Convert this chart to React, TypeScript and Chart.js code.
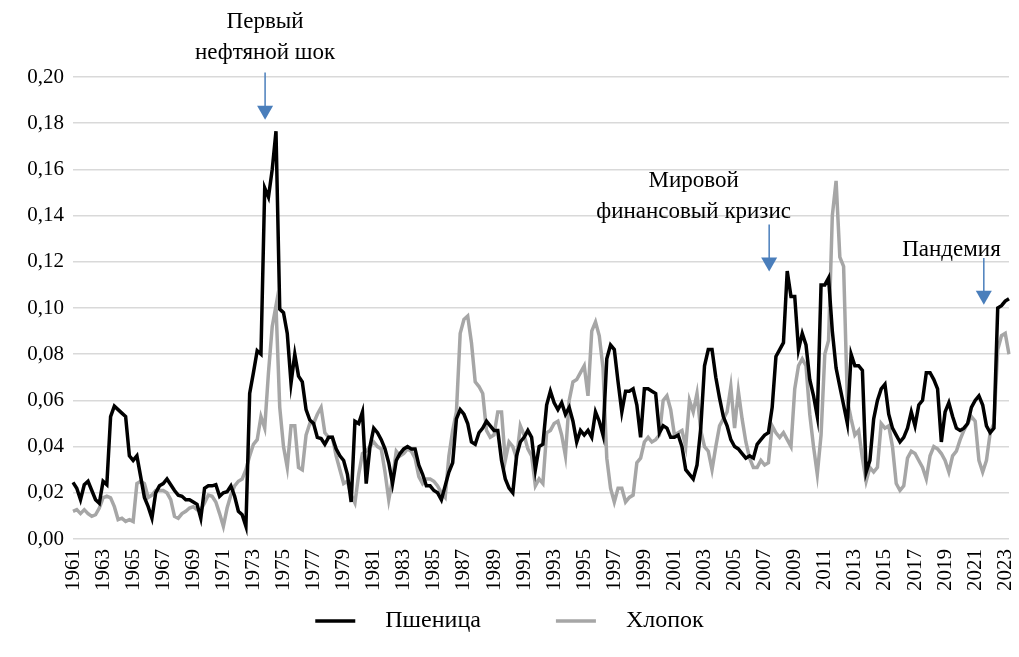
import React, { useEffect, useRef } from 'react';
import { Chart, registerables } from 'chart.js';

Chart.register(...registerables);

// ---------- DATA (quarterly, from 1961 Q1) ----------
const START_YEAR = 1961;
const PER_YEAR = 4;

const wheat: number[] = [
  0.0245, 0.022, 0.017, 0.0235,
  0.025, 0.021, 0.017, 0.0155,
  0.025, 0.0235, 0.053, 0.0575,
  0.056, 0.0545, 0.053, 0.036,
  0.034, 0.036, 0.027, 0.018,
  0.014, 0.009, 0.020, 0.023,
  0.024, 0.026, 0.0235, 0.021,
  0.019, 0.0185, 0.017, 0.017,
  0.016, 0.015, 0.009, 0.022,
  0.023, 0.023, 0.0235, 0.0185,
  0.020, 0.0205, 0.023, 0.0185,
  0.012, 0.0105, 0.0055, 0.063,
  0.072, 0.0815, 0.080, 0.152,
  0.148, 0.160, 0.1765, 0.0995,
  0.098, 0.089, 0.0675, 0.080,
  0.0705, 0.068, 0.056, 0.0515,
  0.050, 0.044, 0.0435, 0.041,
  0.044, 0.044, 0.039, 0.036,
  0.034, 0.028, 0.016, 0.051,
  0.050, 0.055, 0.024, 0.040,
  0.048, 0.046, 0.043, 0.039,
  0.033, 0.024, 0.034, 0.037,
  0.039, 0.040, 0.039, 0.039,
  0.032, 0.028, 0.023, 0.023,
  0.021, 0.020, 0.017, 0.023,
  0.029, 0.033, 0.052, 0.056,
  0.054, 0.050, 0.042, 0.041,
  0.046, 0.048, 0.051, 0.049,
  0.047, 0.047, 0.034, 0.026,
  0.022, 0.020, 0.036, 0.042,
  0.044, 0.047, 0.044, 0.030,
  0.040, 0.041, 0.058, 0.064,
  0.059, 0.056, 0.059, 0.054,
  0.057, 0.051, 0.042, 0.047,
  0.045, 0.047, 0.044, 0.055,
  0.051, 0.045, 0.078, 0.084,
  0.082, 0.068, 0.055, 0.064,
  0.064, 0.065, 0.058, 0.044,
  0.065, 0.065, 0.064, 0.063,
  0.046, 0.049, 0.048, 0.044,
  0.044, 0.045, 0.040, 0.030,
  0.028, 0.026, 0.032, 0.048,
  0.075, 0.082, 0.082, 0.070,
  0.061, 0.053, 0.049, 0.043,
  0.040, 0.039, 0.037, 0.035,
  0.036, 0.035, 0.041, 0.043,
  0.045, 0.046, 0.057, 0.079,
  0.082, 0.085, 0.116, 0.105,
  0.105, 0.082, 0.089, 0.084,
  0.069, 0.062, 0.053, 0.110,
  0.110, 0.113, 0.090, 0.074,
  0.066, 0.058, 0.050, 0.080,
  0.075, 0.075, 0.073, 0.029,
  0.034, 0.052, 0.060, 0.065,
  0.067, 0.054, 0.048, 0.045,
  0.042, 0.044, 0.048, 0.055,
  0.049, 0.058, 0.060, 0.072,
  0.072, 0.069, 0.065, 0.042,
  0.055, 0.059, 0.053, 0.048,
  0.047, 0.048, 0.050, 0.057,
  0.060, 0.062, 0.058, 0.049,
  0.046, 0.048, 0.100, 0.101,
  0.103, 0.104,
];

const cotton: number[] = [
  0.012, 0.0127, 0.011, 0.0127,
  0.011, 0.0098, 0.0105, 0.0134,
  0.0178, 0.0185, 0.0178, 0.014,
  0.0084, 0.009, 0.0076, 0.0084,
  0.0076, 0.024, 0.025, 0.024,
  0.018, 0.019, 0.021, 0.021,
  0.021, 0.020, 0.017, 0.0098,
  0.009, 0.011, 0.012, 0.0134,
  0.014, 0.0127, 0.0127, 0.0156,
  0.019, 0.0185, 0.016, 0.011,
  0.0055, 0.0134, 0.019, 0.023,
  0.025, 0.026, 0.030, 0.036,
  0.041, 0.043, 0.053, 0.048,
  0.072, 0.092, 0.101, 0.057,
  0.040, 0.031, 0.049, 0.049,
  0.031, 0.030, 0.045, 0.050,
  0.050, 0.054, 0.057, 0.046,
  0.044, 0.044, 0.036, 0.030,
  0.024, 0.025, 0.019, 0.0156,
  0.028, 0.037, 0.038, 0.040,
  0.042, 0.040, 0.039, 0.029,
  0.017, 0.026, 0.038, 0.036,
  0.037, 0.039, 0.038, 0.035,
  0.027, 0.024, 0.026, 0.026,
  0.025, 0.023, 0.020, 0.018,
  0.036, 0.047, 0.055, 0.089,
  0.095, 0.0965, 0.085, 0.068,
  0.066, 0.063, 0.047, 0.044,
  0.045, 0.055, 0.055, 0.034,
  0.042, 0.040, 0.035, 0.049,
  0.045, 0.039, 0.036, 0.023,
  0.026, 0.024, 0.046, 0.047,
  0.050, 0.051, 0.045, 0.036,
  0.060, 0.068, 0.069, 0.072,
  0.075, 0.062, 0.090, 0.094,
  0.088, 0.074, 0.035, 0.022,
  0.016, 0.022, 0.022, 0.016,
  0.018, 0.019, 0.033, 0.035,
  0.042, 0.044, 0.042, 0.043,
  0.045, 0.060, 0.062, 0.056,
  0.045, 0.046, 0.047, 0.040,
  0.060, 0.055, 0.063, 0.047,
  0.040, 0.038, 0.030, 0.040,
  0.049, 0.052, 0.055, 0.066,
  0.048, 0.064, 0.052, 0.042,
  0.035, 0.031, 0.031, 0.034,
  0.032, 0.033, 0.049, 0.046,
  0.044, 0.046, 0.043, 0.040,
  0.065, 0.075, 0.078, 0.075,
  0.054, 0.040, 0.028, 0.045,
  0.080, 0.086, 0.140, 0.155,
  0.122, 0.118, 0.060, 0.052,
  0.045, 0.047, 0.035, 0.025,
  0.031, 0.029, 0.031, 0.050,
  0.048, 0.049, 0.040, 0.024,
  0.021, 0.023, 0.035, 0.038,
  0.037, 0.034, 0.031, 0.026,
  0.036, 0.040, 0.039, 0.037,
  0.034, 0.029, 0.036, 0.038,
  0.043, 0.047, 0.050, 0.053,
  0.051, 0.034, 0.029, 0.034,
  0.046, 0.050, 0.082, 0.088,
  0.089, 0.080,
];

const seriesNames = ['Пшеница', 'Хлопок'];
const seriesColors = ['#000000', '#a6a6a6'];

const tickYears = [
  '1961', '1963', '1965', '1967', '1969', '1971', '1973', '1975', '1977', '1979',
  '1981', '1983', '1985', '1987', '1989', '1991', '1993', '1995', '1997', '1999',
  '2001', '2003', '2005', '2007', '2009', '2011', '2013', '2015', '2017', '2019',
  '2021', '2023',
];

const yMin = 0;
const yMax = 0.2;
const yStep = 0.02;

const categories = wheat.map(
  (_, i) => `${START_YEAR + Math.floor(i / PER_YEAR)} Q${(i % PER_YEAR) + 1}`
);

// annotation texts and anchors (category index / value)
const annotationLines = [
  ['Первый', 'нефтяной шок'],
  ['Мировой', 'финансовый кризис'],
  ['Пандемия'],
];
const annotationTextAt = [51.1, 165.1, 233.7];
const annotationTextValue = [0.224, 0.1551, 0.1252];
const arrowAt = [51.1, 185.2, 242.3];
const arrowFrom = [0.2019, 0.1361, 0.1216];
const arrowTo = [0.1815, 0.1158, 0.1014];

const FONT = '"Liberation Serif", "Times New Roman", serif';

const overlayPlugin = {
  id: 'overlay',
  afterDraw(chart: any) {
    const { ctx } = chart;
    const x = chart.scales.x;
    const y = chart.scales.y;
    ctx.save();
    // annotations
    ctx.fillStyle = '#000';
    ctx.font = `23px ${FONT}`;
    ctx.textAlign = 'center';
    ctx.textBaseline = 'middle';
    annotationLines.forEach((lines, k) => {
      const tx = x.getPixelForValue(annotationTextAt[k]);
      const ty = y.getPixelForValue(annotationTextValue[k]);
      lines.forEach((line, j) => ctx.fillText(line, tx, ty + j * 31));
    });
    ctx.strokeStyle = '#4a7ebb';
    ctx.fillStyle = '#4a7ebb';
    ctx.lineWidth = 1.5;
    arrowAt.forEach((a, k) => {
      const ax = x.getPixelForValue(a);
      const y0 = y.getPixelForValue(arrowFrom[k]);
      const y1 = y.getPixelForValue(arrowTo[k]);
      const headH = 14;
      const headW = 8;
      ctx.beginPath();
      ctx.moveTo(ax, y0);
      ctx.lineTo(ax, y1 - headH + 1);
      ctx.stroke();
      ctx.beginPath();
      ctx.moveTo(ax - headW, y1 - headH);
      ctx.lineTo(ax + headW, y1 - headH);
      ctx.lineTo(ax, y1);
      ctx.closePath();
      ctx.fill();
    });
    // legend
    ctx.font = `24px ${FONT}`;
    ctx.textAlign = 'left';
    ctx.textBaseline = 'middle';
    const sampleW = 40;
    const gap = 30;
    const itemGap = 75;
    const widths = chart.data.datasets.map((d: any) => sampleW + gap + ctx.measureText(d.label).width);
    const total = widths.reduce((s: number, w: number) => s + w, 0) + itemGap * (widths.length - 1);
    let lx = (chart.width - total) / 2;
    const ly = 621;
    chart.data.datasets.forEach((d: any, i: number) => {
      ctx.strokeStyle = d.borderColor;
      ctx.lineWidth = 3.5;
      ctx.beginPath();
      ctx.moveTo(lx, ly);
      ctx.lineTo(lx + sampleW, ly);
      ctx.stroke();
      ctx.fillStyle = '#000';
      ctx.fillText(d.label, lx + sampleW + gap, ly);
      lx += widths[i] + itemGap;
    });
    ctx.restore();
  },
};

export default function App() {
  const ref = useRef<HTMLCanvasElement | null>(null);
  useEffect(() => {
    document.body.style.margin = '0';
    const canvas = ref.current;
    if (!canvas) return;
    const chart = new Chart(canvas, {
      type: 'line',
      data: {
        labels: categories,
        datasets: [
          {
            label: seriesNames[0],
            data: wheat,
            borderColor: seriesColors[0],
            backgroundColor: seriesColors[0],
            borderWidth: 3.5,
            pointRadius: 0,
            tension: 0,
            order: 0,
          },
          {
            label: seriesNames[1],
            data: cotton,
            borderColor: seriesColors[1],
            backgroundColor: seriesColors[1],
            borderWidth: 3.5,
            pointRadius: 0,
            tension: 0,
            order: 1,
          },
        ],
      },
      options: {
        responsive: false,
        animation: false,
        devicePixelRatio: 1,
        layout: { padding: { left: 0, top: 77, right: 10, bottom: 58 } },
        plugins: {
          legend: { display: false },
          tooltip: { enabled: false },
        },
        scales: {
          x: {
            type: 'category',
            offset: false,
            grid: { display: false, drawTicks: false },
            border: { display: false },
            afterFit: (s: any) => {
              s.height = 60;
              s.paddingLeft = 0;
              s.paddingRight = 0;
            },
            ticks: {
              autoSkip: false,
              minRotation: 90,
              maxRotation: 90,
              padding: 10,
              color: '#000',
              font: { family: FONT, size: 21 },
              callback: (_v: any, i: number) => {
                const c = categories[i];
                const yr = c.slice(0, 4);
                return c.endsWith('Q1') && tickYears.includes(yr) ? yr : '';
              },
            },
          },
          y: {
            min: yMin,
            max: yMax,
            afterFit: (s: any) => {
              s.width = 73;
              s.paddingTop = 0;
              s.paddingBottom = 0;
            },
            grid: { color: '#d9d9d9', lineWidth: 1.5, drawTicks: false },
            border: { display: false },
            ticks: {
              stepSize: yStep,
              padding: 9,
              color: '#000',
              font: { family: FONT, size: 21 },
              callback: (v: any) => Number(v).toFixed(2).replace('.', ','),
            },
          },
        },
      },
      plugins: [overlayPlugin],
    });
    return () => chart.destroy();
  }, []);
  return (
    <div style={{ width: 1019, height: 657 }}>
      <canvas ref={ref} width={1019} height={657} style={{ display: 'block' }} />
    </div>
  );
}
